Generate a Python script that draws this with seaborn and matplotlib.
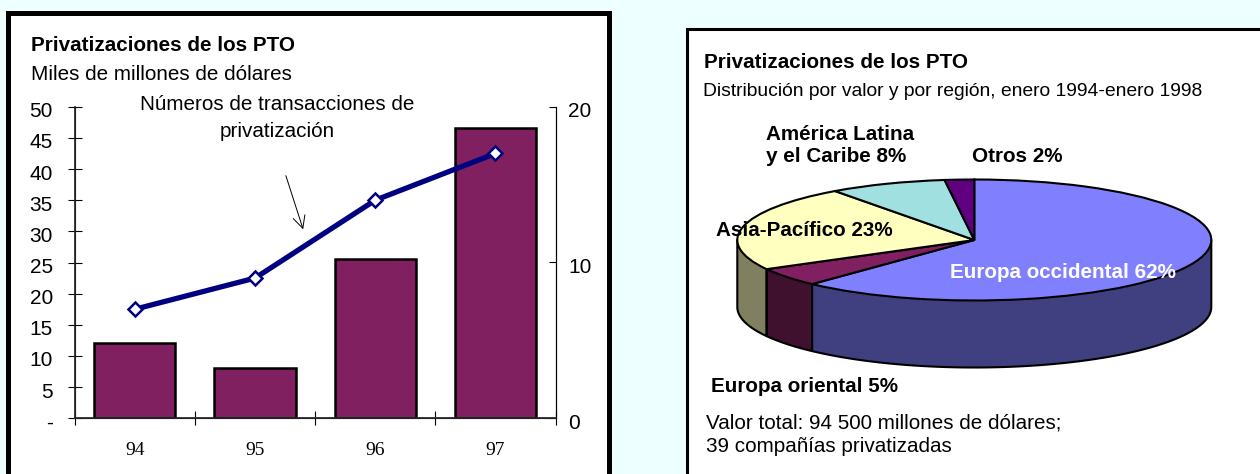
"""Two panels: PTO privatisations, bars + line and a tilted pie."""

import matplotlib

matplotlib.use("Agg")

import matplotlib.pyplot as plt
import matplotlib.transforms as mtrans
import numpy as np
import seaborn as sns
from matplotlib.patches import Rectangle

WIDTH, HEIGHT = 1260, 474

years = ["94", "95", "96", "97"]
value_bn = [12.1, 8.1, 25.5, 46.6]
transactions = [7, 9, 14, 17]
left_ticks = [0, 5, 10, 15, 20, 25, 30, 35, 40, 45, 50]
left_labels = ["-", "5", "10", "15", "20", "25", "30", "35", "40", "45", "50"]
right_ticks = [0, 10, 20]

regions = ["Europa occidental", "Europa oriental", "Asia-Pacífico", "América Latina", "Otros"]
shares = [62, 5, 23, 8, 2]
top_colors = ["#8080FF", "#802060", "#FFFFC0", "#A0E0E0", "#600080"]
side_colors = ["#404080", "#40102F", "#808060", "#507070", "#300040"]

sns.set_theme(style="white")
plt.rcParams["font.family"] = ["Liberation Sans", "DejaVu Sans"]

fig = plt.figure(figsize=(WIDTH / 100, HEIGHT / 100), dpi=100, facecolor="#EEFFFF")


def px_axes(x0, y0, x1, y1):
    return fig.add_axes([x0 / WIDTH, 1 - y1 / HEIGHT, (x1 - x0) / WIDTH, (y1 - y0) / HEIGHT])


def px_text(x, y, s, size=14.9, **kwargs):
    kwargs.setdefault("va", "center")
    fig.text(x / WIDTH, 1 - (y + 1) / HEIGHT, s, fontsize=size, color=kwargs.pop("color", "black"), **kwargs)


def px_frame(x0, y0, x1, y1, lw):
    fig.add_artist(Rectangle((x0 / WIDTH, 1 - y1 / HEIGHT), (x1 - x0) / WIDTH, (y1 - y0) / HEIGHT,
                             transform=fig.transFigure, facecolor="white", edgecolor="black", linewidth=lw,
                             zorder=-1))


def drop_labels(labels, px):
    # tick labels sit a little under their ticks in the reference
    shift = mtrans.ScaledTranslation(0, -px / 100, fig.dpi_scale_trans)
    for label in labels:
        label.set_transform(label.get_transform() + shift)


px_frame(8, 12.5, 609, 490, 3.6)
px_frame(687.5, 28.5, 1290, 490, 2.2)

# left panel
ax = px_axes(74.7, 106.7, 555.6, 418.3)
ax.patch.set_alpha(0)
sns.barplot(x=years, y=value_bn, color="#802060", saturation=1, width=0.675,
            edgecolor="black", linewidth=1.8, ax=ax)
ax.set_xlim(-0.5, 3.5)
ax.set_ylim(0, 50)
ax.set_yticks(left_ticks)
ax.set_yticklabels(left_labels, fontsize=15)
ax.set_xticks(np.arange(len(years) + 1) - 0.5, minor=True)
ax.tick_params(axis="x", which="major", length=0, pad=17, labelsize=14, labelcolor="black")
ax.tick_params(axis="x", which="minor", length=10, direction="inout", width=0.8, color="black", bottom=True)
ax.tick_params(axis="y", length=9.4, direction="inout", width=0.8, color="black", left=True, pad=11,
               labelcolor="black")
for label in ax.get_xticklabels():
    label.set_fontfamily("Liberation Serif")
drop_labels(ax.get_yticklabels(), 3)
ax.spines["top"].set_visible(False)
for side in ["left", "right", "bottom"]:
    ax.spines[side].set_color("black")
    ax.spines[side].set_linewidth(0.8)

ax2 = ax.twinx()
sns.lineplot(x=np.arange(len(years)), y=transactions, color="#000080", linewidth=3.8, marker="D",
             markersize=7.5, markerfacecolor="white", markeredgecolor="#000080", markeredgewidth=1.8,
             ax=ax2)
ax2.set_xlim(-0.5, 3.5)
ax2.set_ylim(0, 20)
ax2.set_yticks(right_ticks)
ax2.set_yticklabels([str(t) for t in right_ticks], fontsize=15)
ax2.tick_params(axis="y", length=5, direction="in", width=0.8, color="black", right=True, pad=9,
                labelcolor="black")
ax2.set_yticks([0], minor=True)
ax2.tick_params(axis="y", which="minor", length=4, direction="out", width=0.8, color="black", right=True)
drop_labels(ax2.get_yticklabels(), 3)
ax2.spines["top"].set_visible(False)
ax2.spines["right"].set_color("black")
ax2.spines["right"].set_linewidth(0.8)

px_text(31, 44, "Privatizaciones de los PTO", fontweight="bold")
px_text(31, 73, "Miles de millones de dólares")
px_text(277, 117, "Números de transacciones de\nprivatización", ha="center", linespacing=1.55)
ax.annotate("", xy=(304 / WIDTH, 1 - 232 / HEIGHT), xytext=(285 / WIDTH, 1 - 173 / HEIGHT),
            xycoords="figure fraction", textcoords="figure fraction",
            arrowprops=dict(arrowstyle="->", color="black", lw=0.7, mutation_scale=22))

# right panel: tilted pie, ax.pie for the top and filled rims below it
RX, RY, DEPTH = 237, 60.5, 67
CX, CY = 974.3, 240
PAD = 0.05
pie_ax = px_axes(CX - RX * (1 + PAD), CY - RY * (1 + PAD), CX + RX * (1 + PAD), CY + RY + DEPTH + RY * PAD)
pie_ax.patch.set_alpha(0)

depth_units = DEPTH / RY
edges = np.cumsum([0] + shares) * 3.6
for start, stop, color in zip(edges[:-1], edges[1:], side_colors):
    lo, hi = max(start, 90), min(stop, 270)
    if lo >= hi:
        continue
    theta = np.radians(np.linspace(lo, hi, 80))
    xs = np.sin(theta)
    ys = np.cos(theta)
    pie_ax.fill_between(xs, ys, ys - depth_units, color=color, edgecolor="none", zorder=1)
    pie_ax.plot(np.r_[xs[0], xs, xs[-1]], np.r_[ys[0], ys - depth_units, ys[-1]], color="black", lw=1.5,
                zorder=1.5)

pie_ax.pie(shares, colors=top_colors, startangle=90, counterclock=False,
           wedgeprops=dict(edgecolor="black", linewidth=1.5, zorder=2))
pie_ax.set_aspect("auto")
pie_ax.set_xlim(-1 - PAD, 1 + PAD)
pie_ax.set_ylim(-1 - depth_units - PAD, 1 + PAD)

px_text(704, 62, "Privatizaciones de los PTO", fontweight="bold")
px_text(703, 90, "Distribución por valor y por región, enero 1994-enero 1998", 13.9)
px_text(766, 133, "América Latina", fontweight="bold")
px_text(766, 155.5, "y el Caribe 8%", fontweight="bold")
px_text(971.5, 155, "Otros 2%", fontweight="bold")
px_text(716.5, 229, "Asia-Pacífico 23%", fontweight="bold")
px_text(950, 271, "Europa occidental 62%", fontweight="bold", color="white")
px_text(711, 386, "Europa oriental 5%", fontweight="bold")
px_text(706, 422, "Valor total: 94 500 millones de dólares;")
px_text(706, 445, "39 compañías privatizadas")

fig.savefig("out.png", dpi=100, facecolor=fig.get_facecolor())
